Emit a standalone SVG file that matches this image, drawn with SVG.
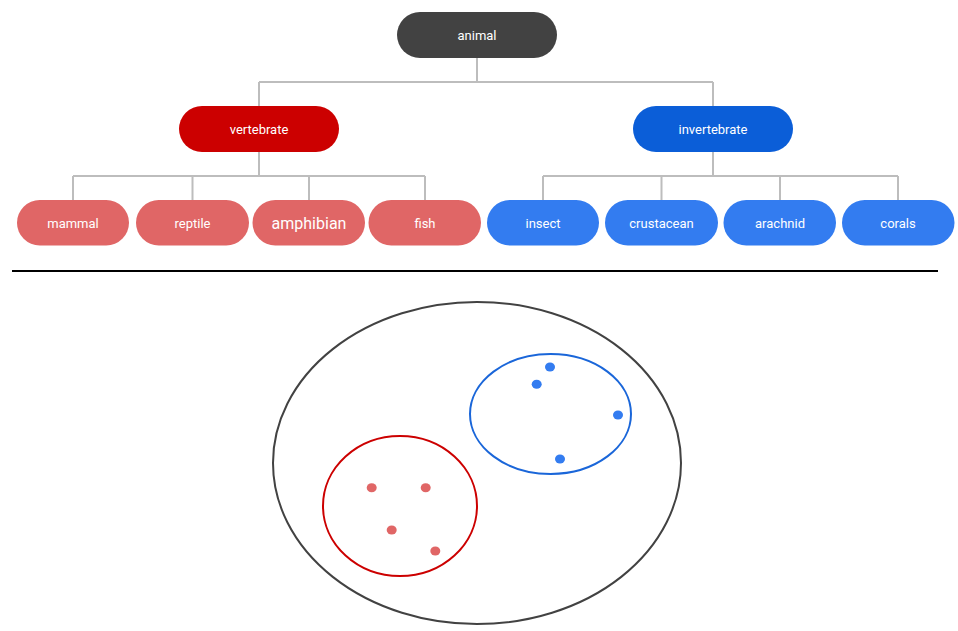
<svg xmlns="http://www.w3.org/2000/svg" width="958" height="631" viewBox="0 0 958 631">
<style>
.lbl{font-family:Roboto,"Liberation Sans",sans-serif;font-size:13px;fill:#ffffff;text-anchor:middle;dominant-baseline:central}
.big{font-size:16px}
.conn{stroke:#bdbdbd;stroke-width:2;fill:none}
.red{fill:#e06666}
.blue{fill:#337cf0}
</style>
<rect width="958" height="631" fill="#ffffff"/>
<g id="connectors">
<path class="conn" d="M477 58V82M259 82H713M259 82V106M713 82V106"/>
<path class="conn" d="M259 152V176M73 176H425M73 176V200M192.5 176V200M309 176V200M425 176V200"/>
<path class="conn" d="M713 152V176M543 176H898M543 176V200M661.5 176V200M780 176V200M898 176V200"/>
</g>
<g id="animal"><rect x="397" y="12" width="160" height="46" rx="23" fill="#424242"/><text class="lbl" x="477" y="35">animal</text></g>
<g id="vertebrate"><rect x="179" y="106" width="160" height="46" rx="23" fill="#cc0000"/><text class="lbl" x="259" y="129">vertebrate</text></g>
<g id="invertebrate"><rect x="633" y="106" width="160" height="46" rx="23" fill="#0b5ed8"/><text class="lbl" x="713" y="129">invertebrate</text></g>
<g id="mammal"><rect class="red" x="17" y="200" width="112" height="45.5" rx="22.75"/><text class="lbl" x="73" y="223">mammal</text></g>
<g id="reptile"><rect class="red" x="136" y="200" width="113" height="45.5" rx="22.75"/><text class="lbl" x="192.5" y="223">reptile</text></g>
<g id="amphibian"><rect class="red" x="252.5" y="200" width="112.5" height="45.5" rx="22.75"/><text class="lbl big" x="309" y="223">amphibian</text></g>
<g id="fish"><rect class="red" x="368.5" y="200" width="112.5" height="45.5" rx="22.75"/><text class="lbl" x="425" y="223">fish</text></g>
<g id="insect"><rect class="blue" x="487" y="200" width="112" height="45.5" rx="22.75"/><text class="lbl" x="543" y="223">insect</text></g>
<g id="crustacean"><rect class="blue" x="605" y="200" width="113" height="45.5" rx="22.75"/><text class="lbl" x="661.5" y="223">crustacean</text></g>
<g id="arachnid"><rect class="blue" x="723.5" y="200" width="112.5" height="45.5" rx="22.75"/><text class="lbl" x="780" y="223">arachnid</text></g>
<g id="corals"><rect class="blue" x="842" y="200" width="112.5" height="45.5" rx="22.75"/><text class="lbl" x="898" y="223">corals</text></g>
<line x1="12" y1="271" x2="938" y2="271" stroke="#000000" stroke-width="2"/>
<g id="sets">
<ellipse cx="477" cy="463" rx="204" ry="161" fill="none" stroke="#424242" stroke-width="2"/>
<ellipse cx="550.5" cy="414" rx="80.5" ry="60" fill="none" stroke="#1a66d9" stroke-width="2"/>
<ellipse cx="400" cy="506" rx="77" ry="70" fill="none" stroke="#cc0000" stroke-width="2"/>
<g class="blue"><ellipse cx="550" cy="367" rx="5" ry="4.5"/><ellipse cx="536.7" cy="384.3" rx="5" ry="4.5"/><ellipse cx="618" cy="415" rx="5" ry="4.5"/><ellipse cx="560" cy="459" rx="5" ry="4.5"/></g>
<g class="red"><ellipse cx="371.7" cy="487.7" rx="5" ry="4.5"/><ellipse cx="425.7" cy="487.7" rx="5" ry="4.5"/><ellipse cx="391.7" cy="530" rx="5" ry="4.5"/><ellipse cx="435.3" cy="551" rx="5" ry="4.5"/></g>
</g>
</svg>
